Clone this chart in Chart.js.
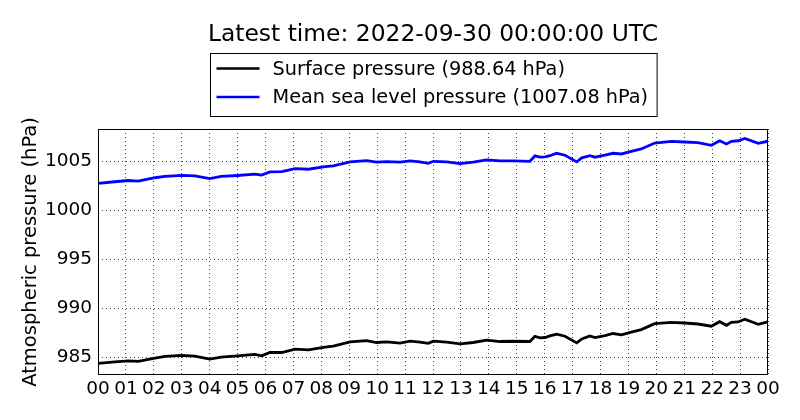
<!DOCTYPE html>
<html>
<head>
<meta charset="utf-8">
<script src="https://cdn.jsdelivr.net/npm/chart.js@4.4.1/dist/chart.umd.min.js"></script>
<style>
  html, body { margin: 0; padding: 0; background: #fff; }
  #wrap { width: 800px; height: 420px; }
</style>
</head>
<body>
<div id="wrap"><canvas id="chart" width="800" height="420"></canvas></div>
<script>
// Hours since 2022-09-29 00:00 UTC
const hours = [
  0, 0.6, 1.09, 1.44, 2.04, 2.4, 3.0, 3.47, 4.0, 4.41, 5.0, 5.62, 5.86, 6.16, 6.58,
  7.06, 7.54, 8.13, 8.43, 9.03, 9.62, 9.98, 10.34, 10.82, 11.18, 11.53, 11.83, 12.01,
  12.49, 12.97, 13.44, 13.92, 14.4, 14.88, 15.47, 15.65, 15.83, 16.01, 16.19, 16.43,
  16.73, 17.15, 17.33, 17.62, 17.8, 18.16, 18.45, 18.75, 19.1, 19.46, 19.94, 20.54,
  21.01, 21.49, 21.97, 22.27, 22.51, 22.69, 22.93, 23.17, 23.65, 24
];

const surfacePressure = [
  984.39, 984.55, 984.65, 984.59, 984.93, 985.10, 985.20, 985.13, 984.83, 985.03, 985.16,
  985.30, 985.16, 985.50, 985.50, 985.84, 985.77, 986.05, 986.15, 986.58, 986.72, 986.52,
  986.58, 986.45, 986.65, 986.55, 986.43, 986.65, 986.55, 986.38, 986.52, 986.76, 986.62,
  986.65, 986.62, 987.16, 987.00, 987.03, 987.19, 987.37, 987.16, 986.48, 986.89, 987.19,
  987.03, 987.23, 987.44, 987.30, 987.57, 987.84, 988.45, 988.58, 988.51, 988.41, 988.18,
  988.65, 988.28, 988.58, 988.62, 988.89, 988.38, 988.64
];

const seaLevelPressure = [
  1002.77, 1002.94, 1003.07, 1003.00, 1003.35, 1003.48, 1003.60, 1003.55, 1003.27, 1003.48,
  1003.58, 1003.72, 1003.62, 1003.95, 1003.97, 1004.29, 1004.22, 1004.49, 1004.56, 1004.97,
  1005.10, 1004.94, 1005.00, 1004.94, 1005.07, 1004.97, 1004.83, 1005.03, 1004.97, 1004.80,
  1004.94, 1005.17, 1005.07, 1005.07, 1005.03, 1005.58, 1005.45, 1005.48, 1005.60, 1005.85,
  1005.65, 1004.97, 1005.38, 1005.61, 1005.45, 1005.65, 1005.85, 1005.78, 1006.05, 1006.29,
  1006.90, 1007.07, 1007.00, 1006.93, 1006.66, 1007.13, 1006.80, 1007.07, 1007.13, 1007.37,
  1006.87, 1007.08
];

const seriesLabels = [
  "Surface pressure (988.64 hPa)",
  "Mean sea level pressure (1007.08 hPa)"
];
const seriesColors = ["#000000", "#0000ff"];
const titleText = "Latest time: 2022-09-30 00:00:00 UTC";
const yTitle = "Atmospheric pressure (hPa)";
const yTicks = [985, 990, 995, 1000, 1005];

const FONT = '"DejaVu Sans", sans-serif';

function toPoints(values) {
  return values.map((v, i) => ({ x: hours[i], y: v }));
}

// title, boxed legend and the frame round the plot
const decorations = {
  id: "decorations",
  afterDraw(chart) {
    const ctx = chart.ctx;
    const area = chart.chartArea;
    const cx = (area.left + area.right) / 2;
    ctx.save();

    // frame
    ctx.strokeStyle = "#000";
    ctx.lineWidth = 1;
    ctx.strokeRect(area.left + 0.5, area.top + 0.5, area.right - area.left - 1, area.bottom - area.top - 1);

    // title
    ctx.fillStyle = "#000";
    ctx.font = "23.4px " + FONT;
    ctx.textAlign = "center";
    ctx.textBaseline = "middle";
    ctx.fillText(titleText, cx, 35);

    // legend
    ctx.font = "19.3px " + FONT;
    const textW = Math.max(...seriesLabels.map(l => ctx.measureText(l).width));
    const w = 62 + textW + 9;
    const left = Math.round(cx - w / 2) + 0.5;
    const top = 53.5;
    ctx.fillStyle = "#fff";
    ctx.fillRect(left, top, w, 63);
    ctx.strokeStyle = "#000";
    ctx.lineWidth = 1;
    ctx.strokeRect(left, top, w, 63);
    const rows = [68.5, 97];
    ctx.textAlign = "left";
    seriesLabels.forEach((label, i) => {
      ctx.strokeStyle = seriesColors[i];
      ctx.lineWidth = 2.5;
      ctx.beginPath();
      ctx.moveTo(left + 6, rows[i]);
      ctx.lineTo(left + 49, rows[i]);
      ctx.stroke();
      ctx.fillStyle = "#000";
      ctx.fillText(label, left + 62, rows[i] + 1);
    });
    ctx.restore();
  }
};

new Chart(document.getElementById("chart"), {
  type: "line",
  plugins: [decorations],
  data: {
    datasets: [
      {
        label: seriesLabels[0],
        data: toPoints(surfacePressure),
        borderColor: seriesColors[0],
        borderWidth: 2.8,
        pointRadius: 0,
        tension: 0
      },
      {
        label: seriesLabels[1],
        data: toPoints(seaLevelPressure),
        borderColor: seriesColors[1],
        borderWidth: 2.8,
        pointRadius: 0,
        tension: 0
      }
    ]
  },
  options: {
    responsive: false,
    animation: false,
    layout: { padding: { top: 129, right: 32, bottom: 0, left: 0 } },
    plugins: {
      legend: { display: false },
      tooltip: { enabled: false },
      title: { display: false }
    },
    scales: {
      x: {
        type: "linear",
        min: 0,
        max: 24,
        afterFit(scale) { scale.height = 45; },
        ticks: {
          stepSize: 1,
          autoSkip: false,
          maxRotation: 0,
          padding: 3,
          color: "#000",
          font: { family: FONT, size: 18.5 },
          callback: v => String(v % 24).padStart(2, "0")
        },
        grid: {
          color: "rgba(0,0,0,0.75)",
          lineWidth: 1,
          drawTicks: false
        },
        border: { display: false, dash: [1, 3] }
      },
      y: {
        min: 983.2,
        max: 1008.33,
        afterFit(scale) { scale.width = 98; },
        afterBuildTicks(scale) { scale.ticks = yTicks.map(v => ({ value: v })); },
        ticks: {
          padding: 6,
          color: "#000",
          font: { family: FONT, size: 18.5 },
          callback: v => String(v)
        },
        grid: {
          color: "rgba(0,0,0,0.75)",
          lineWidth: 1,
          drawTicks: false
        },
        border: { display: false, dash: [1, 3] },
        title: {
          display: true,
          text: yTitle,
          color: "#000",
          font: { family: FONT, size: 19.5 },
          padding: { top: 19, bottom: 0 }
        }
      }
    }
  }
});
</script>
</body>
</html>
